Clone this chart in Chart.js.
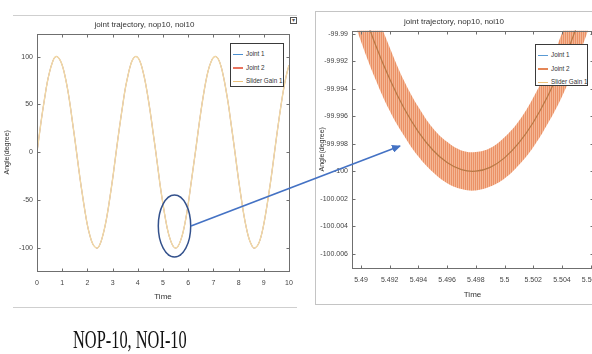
<!DOCTYPE html>
<html>
<head>
<meta charset="utf-8">
<script src="https://cdn.jsdelivr.net/npm/chart.js@4.4.1/dist/chart.umd.min.js"></script>
<style>
  html,body{margin:0;padding:0;background:#fff;}
  body{width:592px;height:354px;overflow:hidden;position:relative;font-family:"Liberation Sans",Arial,sans-serif;}
  .abs{position:absolute;}
  .hline{position:absolute;height:1px;background:#cfcfcf;}
  #rightPanel{left:315px;top:11px;width:300px;height:294px;border:1px solid #c4c4c4;box-sizing:border-box;}
  .legend{position:absolute;background:#fff;border:1px solid #3a3a3a;box-sizing:border-box;padding-top:3px;font-size:6.3px;color:#333;overflow:hidden;}
  .legend .row{height:13.5px;line-height:13.5px;white-space:nowrap;}
  .legend .ln{display:inline-block;width:10px;height:1.5px;vertical-align:middle;margin:0 3px 0 2px;}
  #caption{left:73px;top:327px;font-family:"Liberation Serif","Times New Roman",serif;font-size:26px;line-height:26px;color:#111;transform:scaleX(0.63);transform-origin:left top;white-space:nowrap;}
  #icon{left:290px;top:17px;width:7px;height:7px;border:1px solid #555;box-sizing:border-box;font-size:6px;line-height:5px;text-align:center;color:#555;}
</style>
</head>
<body>
<div class="hline" style="left:13px;top:15px;width:284px"></div>
<div class="hline" style="left:13px;top:307px;width:284px"></div>
<div id="icon" class="abs">▾</div>
<div id="rightPanel" class="abs"></div>

<canvas id="leftChart" class="abs" width="326" height="292" style="left:0;top:15px"></canvas>
<canvas id="rightChart" class="abs" width="315" height="294" style="left:315px;top:11px"></canvas>

<div class="legend" style="left:230px;top:43px;width:54px;height:44px">
  <div class="row"><span class="ln" style="background:#4a8fd0"></span>Joint 1</div>
  <div class="row"><span class="ln" style="background:#e8735e"></span>Joint 2</div>
  <div class="row"><span class="ln" style="background:#edc27a"></span>Slider Gain 1</div>
</div>
<div class="legend" style="left:535px;top:44px;width:53px;height:42px">
  <div class="row"><span class="ln" style="background:#5a9ad4"></span>Joint 1</div>
  <div class="row"><span class="ln" style="background:#e48656"></span>Joint 2</div>
  <div class="row"><span class="ln" style="background:#edc27a"></span>Slider Gain 1</div>
</div>

<svg class="abs" style="left:0;top:0" width="592" height="354">
  <defs>
    <marker id="ah" markerUnits="userSpaceOnUse" markerWidth="9" markerHeight="8" refX="8" refY="4" orient="auto">
      <path d="M0,0 L9,4 L0,8 z" fill="#4472c4"/>
    </marker>
  </defs>
  <ellipse cx="174.5" cy="226" rx="16.2" ry="31" fill="none" stroke="#33518c" stroke-width="1.5"/>
  <line x1="191" y1="226" x2="400" y2="146" stroke="#4472c4" stroke-width="1.6" marker-end="url(#ah)"/>
</svg>

<div id="caption" class="abs">NOP-10, NOI-10</div>

<script>
// ---- left plot: full run ----
const leftTime = [0,0.1,0.2,0.3,0.4,0.5,0.6,0.7,0.8,0.9,1,1.1,1.2,1.3,1.4,1.5,1.6,1.7,1.8,1.9,
  2,2.1,2.2,2.3,2.4,2.5,2.6,2.7,2.8,2.9,3,3.1,3.2,3.3,3.4,3.5,3.6,3.7,3.8,3.9,
  4,4.1,4.2,4.3,4.4,4.5,4.6,4.7,4.8,4.9,5,5.1,5.2,5.3,5.4,5.5,5.6,5.7,5.8,5.9,
  6,6.1,6.2,6.3,6.4,6.5,6.6,6.7,6.8,6.9,7,7.1,7.2,7.3,7.4,7.5,7.6,7.7,7.8,7.9,
  8,8.1,8.2,8.3,8.4,8.5,8.6,8.7,8.8,8.9,9,9.1,9.2,9.3,9.4,9.5,9.6,9.7,9.8,9.9,10];
const sliderGainLeft = [0,20,39,56,72,84,93,99,100,97,91,81,68,52,33,14,-6,-26,-44,-61,
  -76,-87,-95,-99,-100,-96,-88,-77,-63,-46,-28,-8,12,31,49,66,79,90,97,100,
  99,94,85,73,58,41,22,3,-17,-37,-54,-70,-83,-92,-98,-100,-98,-92,-83,-70,
  -54,-35,-16,3,23,42,59,74,86,94,99,100,97,90,79,65,49,30,11,-9,
  -29,-47,-64,-78,-89,-96,-100,-99,-95,-87,-75,-60,-43,-25,-5,15,34,52,68,81,91];
const joint1Left = sliderGainLeft;   // hidden under Slider Gain 1 at this scale
const joint2Left = sliderGainLeft;
const leftXTicks = [0,1,2,3,4,5,6,7,8,9,10];
const leftYTicks = [-100,-50,0,50,100];
const leftYLabels = ['-100','-50','0','50','100'];

// ---- right plot: zoom near the minimum at t~5.498 ----
const rightTime = [5.489,5.490,5.491,5.492,5.493,5.494,5.495,5.496,5.497,5.498,
  5.499,5.500,5.501,5.502,5.503,5.504,5.505,5.506,5.507];
const sliderGainRight = [-99.98456,-99.98787,-99.99079,-99.99330,-99.99542,-99.99713,-99.99845,-99.99936,-99.99988,-99.99999,
  -99.99971,-99.99902,-99.99794,-99.99645,-99.99457,-99.99228,-99.98959,-99.98651,-99.98302];
const joint1Right = sliderGainRight;
const joint2UpperRight = [-99.98166,-99.98517,-99.98829,-99.99100,-99.99342,-99.99533,-99.99685,-99.99786,-99.99848,-99.99859,
  -99.99831,-99.99752,-99.99634,-99.99465,-99.99257,-99.98998,-99.98709,-99.98381,-99.98012];
const joint2LowerRight = [-99.98746,-99.99057,-99.99329,-99.99560,-99.99742,-99.99893,-100.00005,-100.00086,-100.00128,-100.00139,
  -100.00111,-100.00052,-99.99954,-99.99825,-99.99657,-99.99458,-99.99209,-99.98921,-99.98592];
const rightXTicks = [5.49,5.492,5.494,5.496,5.498,5.5,5.502,5.504,5.506];
const rightXLabels = ['5.49','5.492','5.494','5.496','5.498','5.5','5.502','5.504','5.506'];
const rightYTicks = [-100.006,-100.004,-100.002,-100,-99.998,-99.996,-99.994,-99.992,-99.99];
const rightYLabels = ['-100.006','-100.004','-100.002','-100','-99.998','-99.996','-99.994','-99.992','-99.99'];

const axisGray = '#6f6f6f';
const tickFont = {family:'Liberation Sans', size:7};

// MATLAB-like box with inward ticks on all four sides
const boxFrame = {
  id:'boxFrame',
  afterDraw(chart){
    const {ctx, chartArea:a, scales:{x,y}} = chart;
    const L=Math.round(a.left)+0.5, R=Math.round(a.right)+0.5, T=Math.round(a.top)+0.5, B=Math.round(a.bottom)+0.5;
    ctx.save();
    ctx.strokeStyle=axisGray; ctx.lineWidth=1;
    ctx.strokeRect(L,T,R-L,B-T);
    ctx.beginPath();
    x.ticks.forEach(t=>{ const p=Math.round(x.getPixelForValue(t.value))+0.5;
      ctx.moveTo(p,B); ctx.lineTo(p,B-3); ctx.moveTo(p,T); ctx.lineTo(p,T+3); });
    y.ticks.forEach(t=>{ const p=Math.round(y.getPixelForValue(t.value))+0.5;
      ctx.moveTo(L,p); ctx.lineTo(L+3,p); ctx.moveTo(R,p); ctx.lineTo(R-3,p); });
    ctx.stroke(); ctx.restore();
  }
};

function axes(xr, yr, xt, xl, yt, yl, yW, xH, xPad){
  return {
    x:{type:'linear', min:xr[0], max:xr[1],
      afterBuildTicks:s=>{ s.ticks = xt.map(v=>({value:v})); },
      afterFit:s=>{ s.height = xH; },
      grid:{display:false, drawTicks:false}, border:{display:false},
      ticks:{font:tickFont, color:'#444', padding:xPad, maxRotation:0, autoSkip:false, callback:(v,i)=>xl[i]},
      title:{display:true, text:'Time', font:{family:'Liberation Sans', size:8}, color:'#333', padding:{top:0,bottom:5}}},
    y:{type:'linear', min:yr[0], max:yr[1],
      afterBuildTicks:s=>{ s.ticks = yt.map(v=>({value:v})); },
      afterFit:s=>{ s.width = yW; },
      grid:{display:false, drawTicks:false}, border:{display:false},
      ticks:{font:tickFont, color:'#444', padding:4, autoSkip:false, callback:(v,i)=>yl[i]},
      title:{display:true, text:'Angle(degree)', font:{family:'Liberation Sans', size:7}, color:'#333', padding:{top:3,bottom:0}}}
  };
}

function titleOpt(pt, pb){
  return {display:true, text:'joint trajectory, nop10, noi10', color:'#333',
    font:{family:'Liberation Sans', size:8, weight:'normal'}, padding:{top:pt,bottom:pb}};
}

new Chart(document.getElementById('leftChart'), {
  type:'line',
  data:{labels:leftTime, datasets:[
    {label:'Joint 1', data:joint1Left, borderColor:'#4a8fd0', borderWidth:0.6, order:3},
    {label:'Joint 2', data:joint2Left, borderColor:'#e8735e', borderWidth:0.6, order:2},
    {label:'Slider Gain 1', data:sliderGainLeft, borderColor:'#f2d8a4', borderWidth:1.4, order:1}
  ]},
  options:{
    responsive:false, animation:false,
    elements:{point:{radius:0}, line:{tension:0.4}},
    layout:{padding:{left:0, right:37, top:0, bottom:0}},
    plugins:{legend:{display:false}, tooltip:{enabled:false}, title:titleOpt(5,4)},
    scales:axes([0,10],[-124,124],leftXTicks,leftXTicks.map(String),leftYTicks,leftYLabels,37,36,8)
  },
  plugins:[boxFrame]
});

// vertical stripe texture for the noisy Joint 2 band
const pc = document.createElement('canvas'); pc.width=2; pc.height=1;
const pg = pc.getContext('2d');
pg.fillStyle='#eb9166'; pg.fillRect(0,0,1,1);
pg.fillStyle='#f4b795'; pg.fillRect(1,0,1,1);
const bandPattern = pg.createPattern(pc,'repeat');

new Chart(document.getElementById('rightChart'), {
  type:'line',
  data:{labels:rightTime, datasets:[
    {label:'Joint 1', data:joint1Right, borderColor:'#5a9ad4', borderWidth:1, order:4},
    {label:'Joint 2', data:joint2UpperRight, borderColor:'rgba(0,0,0,0)', borderWidth:0, backgroundColor:bandPattern, fill:'+1', order:3},
    {label:'Joint 2 low', data:joint2LowerRight, borderColor:'rgba(0,0,0,0)', borderWidth:0, order:2},
    {label:'Slider Gain 1', data:sliderGainRight, borderColor:'#b87845', borderWidth:1.2, order:1}
  ]},
  options:{
    responsive:false, animation:false,
    elements:{point:{radius:0}, line:{tension:0.4}},
    layout:{padding:{left:0, right:37, top:0, bottom:0}},
    plugins:{legend:{display:false}, tooltip:{enabled:false}, title:titleOpt(6,4)},
    scales:axes([5.489373,5.506167],[-100.00702,-99.98978],rightXTicks,rightXLabels,rightYTicks,rightYLabels,37,37,8)
  },
  plugins:[boxFrame]
});
</script>
</body>
</html>
